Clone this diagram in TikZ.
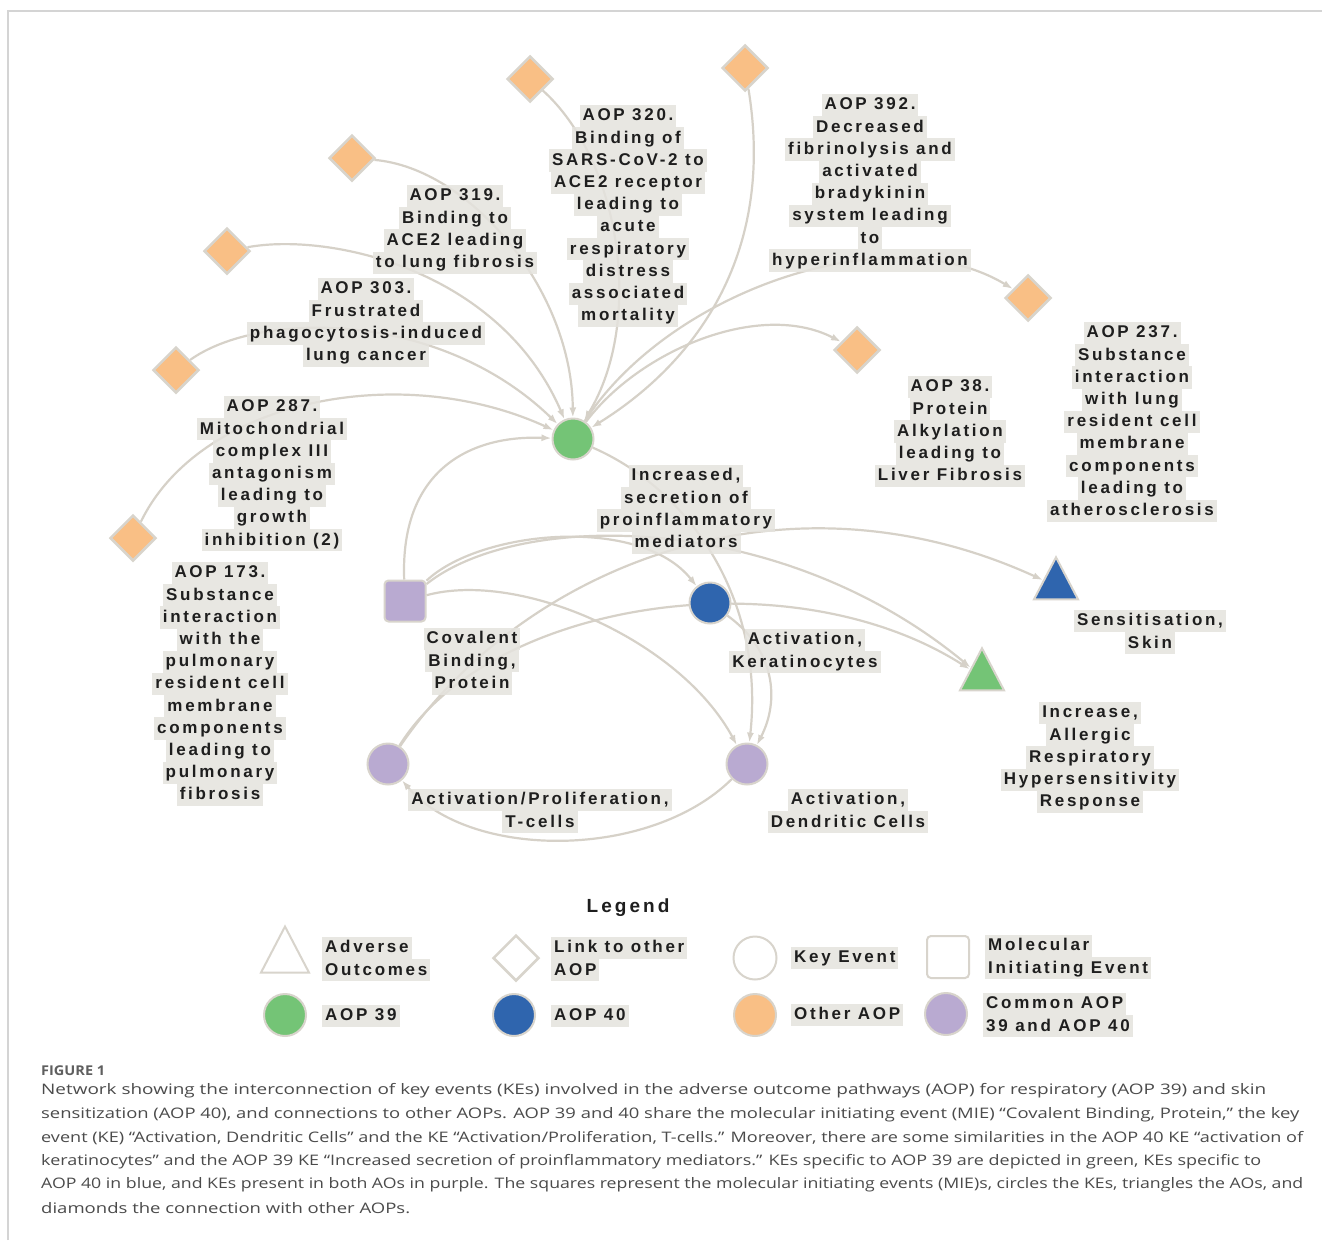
\documentclass[tikz,border=0pt]{standalone}
\usepackage{fontspec}
\usepackage{graphicx}
\setmainfont{Liberation Sans}
\newfontfamily\labfont[LetterSpace=16]{Liberation Sans}
\newfontfamily\capfont{Open Sans}
\usetikzlibrary{shapes.geometric,arrows.meta,calc}
\pgfdeclarelayer{bg}\pgfsetlayers{bg,main}
\definecolor{edgec}{RGB}{214,209,200}
\definecolor{labbg}{RGB}{229,227,222}
\definecolor{nb}{RGB}{216,212,204}
\definecolor{orangec}{RGB}{249,191,133}
\definecolor{greenc}{RGB}{116,196,118}
\definecolor{bluec}{RGB}{47,101,174}
\definecolor{purplec}{RGB}{185,170,209}
\definecolor{txt}{RGB}{30,30,30}
\definecolor{capc}{RGB}{75,75,75}
\definecolor{figc}{RGB}{95,95,95}
\definecolor{framec}{RGB}{212,212,212}
\newcommand\labl[4][]{\foreach \lbtext [count=\i from 0] in {#4}{\node[lab,#1] (#2-\i) at ($(#3)+(0,22.2*\i)$) {\lbtext};}}
\begin{document}
\begin{tikzpicture}[x=1pt,y=-1pt,
  lab/.style={fill=labbg, fill opacity=0.85, text opacity=1, text=txt,
    font={\labfont\bfseries\fontsize{17pt}{22pt}\selectfont},
    inner xsep=3pt, inner ysep=1pt, text height=15pt, text depth=5.2pt},
  dia/.style={diamond, draw=nb, line width=2.5pt, fill=orangec, minimum size=46pt, inner sep=0pt},
  circ/.style={circle, draw=nb, line width=2pt, minimum size=41pt, inner sep=0pt},
  sq/.style={rectangle, rounded corners=4pt, draw=nb, line width=2pt, minimum size=41pt, inner sep=0pt},
  tri/.style={isosceles triangle, isosceles triangle stretches, shape border rotate=90,
    draw=nb, line width=2pt, minimum width=44pt, minimum height=42pt, inner sep=0pt},
  ed/.style={draw=edgec, line width=2.2pt, -{Latex[length=10pt,width=7pt]}},
  captxt/.style={font={\capfont\fontsize{14.5pt}{20pt}\selectfont}, text=capc, inner sep=0pt, anchor=west},
  capfig/.style={font={\capfont\bfseries\fontsize{13.5pt}{15pt}\selectfont}, text=figc, inner sep=0pt, anchor=west}
]
\useasboundingbox (0,0) rectangle (1322,1240);
\begin{pgfonlayer}{bg}
\fill[white] (0,0) rectangle (1322,1240);
\end{pgfonlayer}
\draw[framec, line width=2pt] (8,1240) -- (8,11) -- (1322,11);

% other-AOP diamonds
\node[dia] (d1) at (530,79) {};
\node[dia] (d2) at (745,68) {};
\node[dia] (d3) at (352,158) {};
\node[dia] (d4) at (227,251) {};
\node[dia] (d5) at (176,370) {};
\node[dia] (d6) at (133,538) {};
\node[dia] (d7) at (1028,298) {};
\node[dia] (d8) at (857,350) {};

% AOP 39 / 40 nodes
\node[circ, fill=greenc] (infl) at (573,439) {};
\node[sq, fill=purplec] (mie) at (405,601) {};
\node[circ, fill=bluec] (kera) at (710,603) {};
\node[circ, fill=purplec] (tcell) at (388,764) {};
\node[circ, fill=purplec] (dc) at (747,764) {};
\node[tri, fill=greenc] (aoresp) at (982,677) {};
\node[tri, fill=bluec] (aoskin) at (1056,586) {};

\begin{pgfonlayer}{bg}
\path[ed] (d1) .. controls (620,160) and (645,320) .. (infl);
\path[ed] (d3) .. controls (470,168) and (572,290) .. (infl);
\path[ed] (d4) .. controls (330,232) and (500,270) .. (infl);
\path[ed] (d5) .. controls (260,310) and (440,310) .. (infl);
\path[ed] (d6) .. controls (200,400) and (400,360) .. (infl);
\path[ed] (d2) .. controls (775,250) and (700,360) .. (infl);
\path[ed] (mie) .. controls (400,470) and (470,435) .. (infl);
\path[ed] (infl) .. controls (640,350) and (760,300) .. (d8);
\path[ed] (infl) .. controls (670,290) and (890,215) .. (d7);
\path[ed] (infl) .. controls (690,490) and (765,600) .. (dc);
\path[ed] (kera) .. controls (775,650) and (780,700) .. (dc);
\path[ed] (mie) .. controls (520,570) and (680,640) .. (dc);
\path[ed] (mie) .. controls (480,530) and (640,515) .. (kera);
\path[ed] (mie) .. controls (520,510) and (780,510) .. (aoresp);
\path[ed] (tcell) .. controls (520,570) and (780,460) .. (aoskin);
\path[ed] (tcell) .. controls (490,600) and (790,555) .. (aoresp);
\path[ed] (dc) .. controls (650,860) and (470,860) .. (tcell);
\end{pgfonlayer}

% labels
\labl{l320}{628,116}{AOP 320.,Binding of,SARS-CoV-2 to,ACE2 receptor,leading to,acute,respiratory,distress,associated,mortality}
\labl{l392}{870,105}{AOP 392.,Decreased,fibrinolysis and,activated,bradykinin,system leading,to,hyperinflammation}
\labl{l319}{455,196}{AOP 319.,Binding to,ACE2 leading,to lung fibrosis}
\labl{l303}{366,289}{AOP 303.,Frustrated,phagocytosis-induced,lung cancer}
\labl{l287}{272,407}{AOP 287.,Mitochondrial,complex III,antagonism,leading to,growth,inhibition (2)}
\labl{l173}{220,573}{AOP 173.,Substance,interaction,with the,pulmonary,resident cell,membrane,components,leading to,pulmonary,fibrosis}
\labl{l38}{950,387}{AOP 38.,Protein,Alkylation,leading to,Liver Fibrosis}
\labl{l237}{1132,333}{AOP 237.,Substance,interaction,with lung,resident cell,membrane,components,leading to,atherosclerosis}
\labl{linfl}{686,476}{{Increased,},secretion of,proinflammatory,mediators}
\labl{lmie}{472,639}{Covalent,{Binding,},Protein}
\labl{lkera}{805,640}{{Activation,},Keratinocytes}
\labl{lskin}{1150,621}{{Sensitisation,},Skin}
\labl{lresp}{1090,713}{{Increase,},Allergic,Respiratory,Hypersensitivity,Response}
\labl{ltcell}{540,800}{{Activation/Proliferation,},T-cells}
\labl{ldc}{848,800}{{Activation,},Dendritic Cells}

% legend
\node[font={\labfont\bfseries\fontsize{19pt}{22pt}\selectfont}, text=txt] (legtitle) at (628,908) {Legend};
\node[tri, fill=white, minimum width=48pt, minimum height=46pt] (lgtri) at (285,958) {};
\node[dia, fill=white] (lgdia) at (516,958) {};
\node[circ, fill=white, minimum size=43pt] (lgke) at (755,958) {};
\node[sq, fill=white, minimum size=42pt] (lgmie) at (948,957) {};
\node[circ, fill=greenc, minimum size=42pt] (lgg) at (285,1015) {};
\node[circ, fill=bluec, minimum size=42pt] (lgb) at (514,1015) {};
\node[circ, fill=orangec, minimum size=42pt] (lgo) at (755,1015) {};
\node[circ, fill=purplec, minimum size=42pt] (lgp) at (946,1014) {};
\labl[anchor=west]{tadv}{322,948}{Adverse,Outcomes}
\labl[anchor=west]{tlink}{551,948}{Link to other,AOP}
\labl[anchor=west]{tke}{791,958}{Key Event}
\labl[anchor=west]{tmie}{985,946}{Molecular,Initiating Event}
\labl[anchor=west]{t39}{322,1016}{AOP 39}
\labl[anchor=west]{t40}{551,1016}{AOP 40}
\labl[anchor=west]{toth}{791,1015}{Other AOP}
\labl[anchor=west]{tcom}{983,1004}{Common AOP,39 and AOP 40}

% caption
\node[capfig] (figl) at (41,1071) {\resizebox{64pt}{\height}{FIGURE 1}};
\node[captxt] (c1) at (41,1091) {\resizebox{1225pt}{\height}{Network showing the interconnection of key events (KEs) involved in the adverse outcome pathways (AOP) for respiratory (AOP 39) and skin}};
\node[captxt] (c2) at (41,1114.5) {\resizebox{1258pt}{\height}{sensitization (AOP 40), and connections to other AOPs. AOP 39 and 40 share the molecular initiating event (MIE) “Covalent Binding, Protein,” the key}};
\node[captxt] (c3) at (41,1138) {\resizebox{1262pt}{\height}{event (KE) “Activation, Dendritic Cells” and the KE “Activation/Proliferation, T-cells.” Moreover, there are some similarities in the AOP 40 KE “activation of}};
\node[captxt] (c4) at (41,1161.5) {\resizebox{1220pt}{\height}{keratinocytes” and the AOP 39 KE “Increased secretion of proinflammatory mediators.” KEs specific to AOP 39 are depicted in green, KEs specific to}};
\node[captxt] (c5) at (41,1185) {\resizebox{1262pt}{\height}{AOP 40 in blue, and KEs present in both AOs in purple. The squares represent the molecular initiating events (MIE)s, circles the KEs, triangles the AOs, and}};
\node[captxt] (c6) at (41,1208.5) {\resizebox{369pt}{\height}{diamonds the connection with other AOPs.}};
\end{tikzpicture}
\end{document}
